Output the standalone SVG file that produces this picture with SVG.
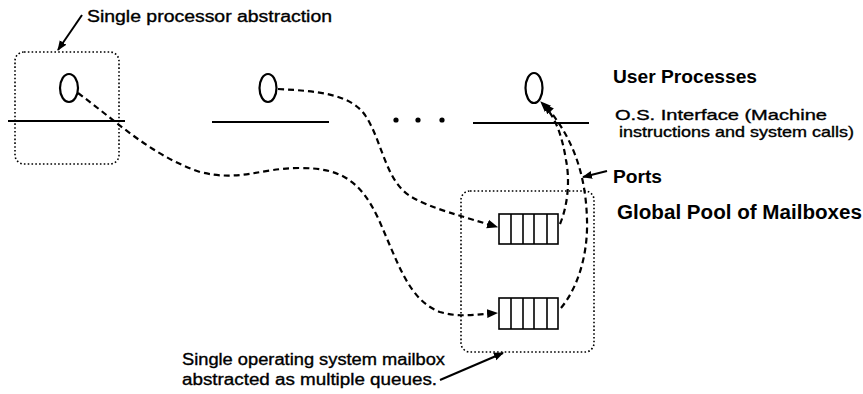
<svg xmlns="http://www.w3.org/2000/svg" width="863" height="394" viewBox="0 0 863 394">
<style>
.t{font-family:"Liberation Sans",Arial,sans-serif;fill:#000}
.r{stroke:#000;stroke-width:0.35}
.b{font-weight:bold}
.dot{fill:none;stroke:#000;stroke-width:1.6;stroke-dasharray:1.6,2.2}
.hl{stroke:#000;stroke-width:2.2}
.proc{fill:none;stroke:#000;stroke-width:2.2}
.dash{fill:none;stroke:#000;stroke-width:2.2;stroke-dasharray:6,4}
.q{fill:#fff;stroke:#000;stroke-width:1.6}
.ql{stroke:#000;stroke-width:1.6}
.sol{fill:none;stroke:#000;stroke-width:2}
</style>
<defs>
<marker id="ah" viewBox="0 0 10 10" refX="9" refY="5" markerWidth="5" markerHeight="5" orient="auto" markerUnits="strokeWidth">
<path d="M0,1 L10,5 L0,9 z" fill="#000"/>
</marker>
</defs>
<rect width="863" height="394" fill="#fff"/>

<g id="proc-box-1">
<rect class="dot" x="15" y="52" width="104" height="112" rx="9"/>
</g>
<g id="interface-lines">
<line class="hl" x1="8" y1="121" x2="125" y2="121"/>
<line class="hl" x1="212" y1="122" x2="329" y2="122"/>
<line class="hl" x1="473" y1="123" x2="589" y2="123"/>
</g>
<g id="ellipsis">
<circle cx="396" cy="120" r="2.6"/>
<circle cx="418" cy="120" r="2.6"/>
<circle cx="442" cy="120" r="2.6"/>
</g>
<g id="process-1"><ellipse class="proc" cx="69" cy="88" rx="9" ry="14"/></g>
<g id="process-2"><ellipse class="proc" cx="268" cy="88" rx="8.5" ry="14"/></g>
<g id="process-3"><ellipse class="proc" cx="534" cy="88" rx="8.5" ry="15"/></g>

<g id="mailbox-box">
<rect class="dot" x="461" y="191" width="133" height="161" rx="9"/>
</g>
<g id="queue-1">
<rect class="q" x="499" y="214" width="59" height="30"/>
<line class="ql" x1="511" y1="214" x2="511" y2="244"/>
<line class="ql" x1="523" y1="214" x2="523" y2="244"/>
<line class="ql" x1="534" y1="214" x2="534" y2="244"/>
<line class="ql" x1="547" y1="214" x2="547" y2="244"/>
</g>
<g id="queue-2">
<rect class="q" x="499" y="298" width="59" height="31"/>
<line class="ql" x1="511" y1="298" x2="511" y2="329"/>
<line class="ql" x1="523" y1="298" x2="523" y2="329"/>
<line class="ql" x1="534" y1="298" x2="534" y2="329"/>
<line class="ql" x1="547" y1="298" x2="547" y2="329"/>
</g>

<g id="connectors">
<path class="dash" marker-end="url(#ah)" d="M78,93 C115,120 150,155 200,172 C240,182 260,168 300,168 C340,168 360,180 378,218 C398,262 408,300 440,312 C460,318 478,314 497,313"/>
<path class="dash" marker-end="url(#ah)" d="M278,89 C318,91 350,94 365,115 C382,140 385,180 410,196 C432,209 462,216 497,227"/>
<path class="dash" marker-end="url(#ah)" d="M560,224 C568,205 570,180 566,160 C562,136 556,117 541,102"/>
<path class="dash" marker-end="url(#ah)" d="M561,308 C580,285 588,250 587,220 C586,180 576,140 544,104"/>
<path class="sol" marker-end="url(#ah)" d="M82,15 L58,50"/>
<path class="sol" marker-end="url(#ah)" d="M607,171 L583,177"/>
<path class="sol" marker-end="url(#ah)" d="M440,380 L503,353"/>
</g>

<g id="labels">
<text class="t r" x="87" y="22" font-size="16" textLength="245" lengthAdjust="spacingAndGlyphs">Single processor abstraction</text>
<text class="t b" x="613" y="83" font-size="19" textLength="144" lengthAdjust="spacingAndGlyphs">User Processes</text>
<text class="t r" x="615" y="120" font-size="14.5" textLength="212" lengthAdjust="spacingAndGlyphs">O.S. Interface (Machine</text>
<text class="t r" x="619" y="137" font-size="14.5" textLength="235" lengthAdjust="spacingAndGlyphs">instructions and system calls)</text>
<text class="t b" x="613" y="183" font-size="19" textLength="49" lengthAdjust="spacingAndGlyphs">Ports</text>
<text class="t b" x="617" y="219" font-size="20" textLength="245" lengthAdjust="spacingAndGlyphs">Global Pool of Mailboxes</text>
<text class="t r" x="182" y="365" font-size="16" textLength="263" lengthAdjust="spacingAndGlyphs">Single operating system mailbox</text>
<text class="t r" x="182" y="385" font-size="16" textLength="255" lengthAdjust="spacingAndGlyphs">abstracted as multiple queues.</text>
</g>
</svg>
